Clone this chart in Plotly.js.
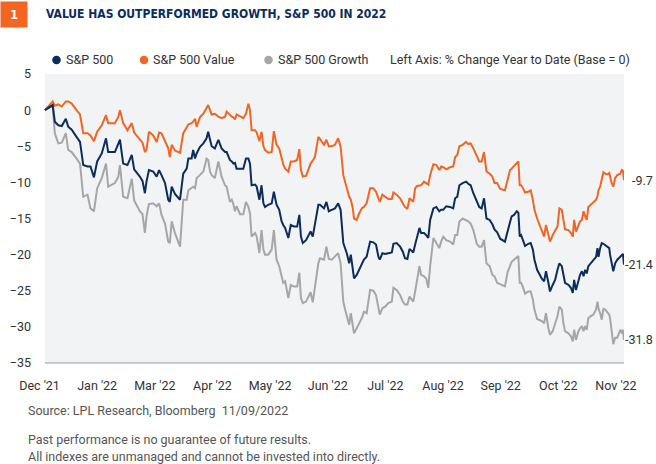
<!DOCTYPE html>
<html>
<head>
<meta charset="utf-8">
<script src="https://cdn.plot.ly/plotly-3.0.1.min.js"></script>
<style>
html,body{margin:0;padding:0;background:#fff;}
#chart{width:656px;height:464px;}
</style>
</head>
<body>
<div id="chart"></div>
<script>
// Trading-day position (0 = Dec 31 2021) and % change year to date
const days = [0.0,2.9,3.7,5.0,6.3,7.8,8.7,10.0,11.8,13.1,14.3,15.9,17.0,18.3,19.5,21.2,22.8,23.6,26.1,27.4,28.0,29.2,30.8,32.4,33.3,35.4,
36.4,37.3,37.9,38.8,40.4,41.7,42.6,43.5,44.8,46.0,46.6,47.3,48.5,50.4,51.6,52.9,53.5,54.7,55.3,56.0,56.6,57.8,59.1,60.3,60.9,61.6,62.2,63.4,64.7,65.9,67.2,67.8,69.0,
69.7,70.3,70.9,71.5,72.8,74.0,75.0,75.9,76.5,77.1,78.4,79.0,80.0,80.8,81.5,82.1,83.3,84.6,85.4,86.4,87.4,88.3,88.9,89.6,90.2,90.8,91.7,92.9,94.1,94.9,95.5,96.2,97.4,98.3,99.1,99.9,100.7,102.0,102.6,
104.1,105.0,105.9,107.0,108.2,109.4,110.3,111.3,111.9,112.6,113.5,114.1,114.8,115.3,116.3,117.2,118.2,119.0,120.0,121.3,122.5,123.5,124.4,124.9,125.9,126.9,128.1,129.4,130.0,131.2,132.5,133.5,134.3,135.2,136.0,
137.4,138.1,138.8,139.7,140.3,141.4,142.2,143.0,143.7,144.9,146.0,147.1,147.8,148.6,149.7,151.1,152.3,153.0,153.8,154.6,155.8,157.1,157.9,158.8,159.8,161.1,162.0,162.9,163.8,164.7,165.9,166.9,167.7,168.7,169.8,
171.6,172.6,173.5,174.1,175.0,176.0,176.6,177.1,177.6,178.2,179.1,180.3,181.2,182.0,182.6,183.6,185.3,186.2,186.9,187.8,188.4,189.4,190.3,191.2,191.9,192.8,193.4,194.0,195.3,196.2,196.9,197.4,198.1,199.0,199.6,200.3,200.9,201.5,202.1,202.7,203.6,204.6,205.6,206.1,206.5,207.1,207.7,208.3,209.0,209.8,210.5,210.8,211.4,212.0,212.7,213.5,214.6,215.2,215.6,216.0];

const spxValue = [0,1.2,0.6,0.8,0.5,1.2,1.2,0.9,0.0,-0.6,-3.2,-3.2,-3.5,-4.3,-3.0,-2.1,-0.7,-1.8,-1.8,-0.9,0.0,-1.8,-2.8,-1.8,-3.1,-4.0,
-4.5,-5.8,-5.5,-3.0,-3.5,-4.4,-3.1,-3.2,-4.4,-5.3,-6.5,-4.8,-5.6,-5.9,-3.2,-2.3,-2.0,-1.8,-1.6,-1.2,-2.3,-1.0,-0.5,0.3,0.7,0.0,-0.6,-0.5,-0.9,-1.1,-0.9,-0.2,-0.7,
-0.9,-1.0,-1.3,-0.6,-0.9,-1.1,-0.5,0.9,0.0,-2.8,-2.8,-3.1,-4.3,-3.0,-5.0,-5.5,-5.9,-5.8,-2.9,-4.8,-5.3,-6.9,-7.5,-8.1,-8.3,-8.5,-7.1,-7.1,-6.9,-5.4,-8.3,-9.2,-9.1,-8.3,-7.4,-7.0,-6.5,-3.7,-4.0,
-4.8,-4.1,-5.0,-5.0,-4.8,-3.9,-5.1,-9.0,-9.8,-10.6,-12.0,-12.4,-13.5,-15.0,-15.2,-14.3,-13.6,-13.4,-12.9,-10.8,-10.8,-11.3,-12.4,-12.7,-11.7,-12.0,-12.3,-12.3,-11.4,-11.7,-12.2,-12.9,-13.4,-13.7,-12.2,
-12.7,-10.8,-10.5,-10.4,-10.4,-9.9,-10.1,-10.3,-9.0,-7.5,-7.6,-8.3,-7.8,-7.9,-8.2,-7.9,-7.8,-6.5,-6.2,-5.0,-4.8,-4.4,-4.7,-4.6,-5.3,-6.5,-7.1,-7.1,-5.8,-8.5,-8.8,-9.2,-10.1,-10.1,-10.9,
-11.1,-9.6,-8.3,-8.1,-7.7,-7.3,-7.1,-10.4,-10.4,-10.7,-11.4,-11.3,-11.1,-12.4,-13.8,-15.0,-16.6,-17.5,-15.9,-17.3,-18.2,-17.3,-16.6,-16.1,-13.6,-13.8,-15.2,-16.5,-16.6,-17.0,-17.5,-15.2,-16.8,-16.1,-15.4,-15.2,-14.0,-14.7,-15.2,-13.4,-13.1,-12.7,-12.4,-11.9,-11.1,-10.6,-9.5,-8.6,-8.8,-8.9,-8.7,-9.3,-10.1,-10.6,-9.4,-9.0,-8.8,-8.3,-8.4,-9.7];

const spx = [0,0.7,-1.6,-2.1,-2.2,-1.2,-2.3,-2.7,-3.7,-4.4,-7.6,-7.8,-7.8,-9.3,-7.1,-6.0,-3.9,-5.8,-5.8,-4.6,-4.1,-7.4,-7.6,-6.2,-8.2,-9.2,
-9.8,-11.5,-9.9,-8.3,-8.5,-9.2,-8.3,-9.0,-10.1,-12.4,-12.7,-10.6,-11.6,-12.4,-8.8,-8.1,-6.7,-6.7,-5.5,-6.7,-6.0,-5.1,-4.6,-3.9,-3.0,-4.1,-5.0,-5.3,-4.1,-5.3,-5.8,-5.8,-6.9,
-7.1,-7.4,-7.3,-8.1,-8.1,-8.1,-6.7,-6.7,-7.4,-10.4,-10.3,-10.6,-12.4,-10.4,-12.9,-13.4,-13.1,-12.9,-11.3,-13.1,-13.8,-15.4,-15.9,-16.3,-17.0,-17.7,-15.9,-16.1,-16.1,-14.5,-17.5,-18.4,-18.0,-17.3,-16.8,-17.5,-15.9,-13.1,-13.1,
-13.6,-12.7,-14.0,-13.8,-13.6,-12.9,-13.8,-18.4,-19.1,-19.8,-21.2,-20.0,-21.9,-23.3,-22.8,-22.1,-21.4,-20.7,-20.3,-18.2,-18.3,-18.6,-20.3,-20.7,-19.8,-19.9,-19.8,-19.7,-18.5,-18.4,-18.9,-19.6,-20.5,-20.6,-19.2,
-19.7,-18.6,-17.5,-16.3,-17.0,-17.0,-17.3,-17.7,-15.2,-13.6,-13.4,-14.0,-13.8,-13.8,-13.3,-13.4,-13.6,-12.2,-12.0,-10.4,-10.1,-9.9,-10.2,-10.4,-11.5,-12.7,-13.4,-13.6,-12.2,-15.0,-15.2,-15.8,-16.5,-16.9,-17.8,
-18.2,-16.6,-15.5,-14.7,-14.5,-14.0,-14.2,-17.5,-17.3,-17.9,-18.8,-18.5,-18.4,-19.3,-20.7,-22.1,-23.3,-23.7,-22.3,-23.9,-25.1,-24.2,-23.5,-22.1,-21.2,-21.6,-23.0,-23.9,-24.2,-24.6,-25.3,-23.5,-24.9,-23.5,-22.8,-22.3,-23.0,-22.1,-22.6,-21.6,-21.2,-20.7,-20.3,-19.1,-20.3,-19.1,-18.4,-18.5,-18.7,-18.9,-19.1,-20.0,-21.5,-22.3,-21.2,-20.7,-20.3,-20.0,-19.9,-21.4];

const spxGrowth = [0,0.6,-3.2,-4.6,-4.5,-3.2,-5.5,-5.8,-6.7,-7.4,-12.0,-11.7,-13.6,-14.0,-10.8,-9.4,-7.4,-10.6,-10.1,-9.2,-7.6,-12.0,-12.2,-9.5,-12.5,-14.0,
-14.4,-17.0,-14.7,-13.0,-12.9,-13.3,-12.9,-14.5,-15.7,-18.2,-18.4,-15.4,-17.0,-18.9,-12.4,-12.4,-11.1,-10.8,-10.6,-10.8,-9.4,-9.0,-8.5,-6.7,-6.9,-8.5,-9.0,-9.4,-7.1,-9.2,-10.4,-10.6,-12.7,
-12.4,-13.0,-14.0,-13.3,-14.4,-14.4,-12.7,-13.4,-14.3,-17.5,-17.0,-17.5,-19.8,-16.6,-19.3,-20.0,-20.0,-19.3,-16.6,-20.7,-21.6,-22.8,-23.9,-23.7,-24.8,-26.0,-24.2,-24.4,-24.4,-22.5,-26.0,-26.7,-26.5,-25.8,-25.2,-26.6,-24.4,-21.2,-20.5,
-20.7,-18.9,-20.6,-20.7,-20.3,-19.8,-21.2,-26.5,-27.5,-28.5,-29.7,-28.1,-29.9,-30.9,-30.2,-29.5,-28.8,-27.9,-28.1,-24.9,-25.0,-25.6,-27.6,-28.3,-27.4,-27.2,-26.7,-26.5,-24.6,-24.9,-25.6,-26.5,-26.9,-26.9,-25.8,
-26.5,-25.1,-23.5,-21.6,-22.8,-23.0,-23.3,-24.6,-21.6,-17.7,-18.4,-19.1,-18.2,-17.5,-18.0,-18.2,-18.6,-17.3,-17.3,-15.4,-15.0,-15.2,-15.4,-15.7,-16.6,-18.5,-18.9,-18.9,-18.0,-21.2,-21.6,-22.8,-23.0,-23.9,-24.1,
-24.4,-22.4,-21.5,-21.0,-20.7,-20.3,-20.2,-23.9,-23.9,-24.4,-25.4,-25.1,-25.1,-26.2,-27.6,-28.9,-29.2,-29.5,-28.1,-30.2,-31.1,-30.6,-29.5,-28.5,-27.2,-27.6,-29.5,-30.6,-30.9,-31.3,-32.0,-30.4,-31.8,-30.6,-30.2,-29.9,-30.6,-29.9,-30.4,-28.8,-28.5,-28.3,-27.6,-26.5,-27.5,-28.1,-29.0,-27.5,-27.6,-27.9,-28.3,-28.8,-30.6,-32.4,-31.5,-31.5,-30.4,-30.9,-30.4,-31.8];

const tickPos = [-2, 19.5, 41, 62.5, 84, 105.5, 127, 148.5, 170, 191.5, 213];
const tickLabels = ["Dec '21", "Jan '22", "Mar '22", "Apr '22", "May '22", "Jun '22", "Jul '22", "Aug '22", "Sep '22", "Oct '22", "Nov '22"];
const seriesNames = ["S&P 500", "S&P 500 Value", "S&P 500 Growth"];

const NAVY = '#0c2c5c', ORANGE = '#f26522', GRAY = '#a6a6a6';
const FONT = 'Roboto, "Liberation Sans", sans-serif';
const TFONT = '"DejaVu Sans Condensed", "DejaVu Sans", sans-serif';
const TXT = '#333333';

const L = 39, R = 32, T = 74, B = 101, W = 656 - L - R, H = 464 - T - B;
const px = v => (v - L) / W;          // pixel x -> paper x
const py = v => (464 - B - v) / H;    // pixel y -> paper y

const traces = [
  {x: days, y: spxGrowth, name: seriesNames[2], type: 'scatter', mode: 'lines', line: {color: GRAY, width: 2}, hoverinfo: 'skip'},
  {x: days, y: spxValue, name: seriesNames[1], type: 'scatter', mode: 'lines', line: {color: ORANGE, width: 2}, hoverinfo: 'skip'},
  {x: days, y: spx, name: seriesNames[0], type: 'scatter', mode: 'lines', line: {color: NAVY, width: 2}, hoverinfo: 'skip'}
];

const last = a => a[a.length - 1];
const x0 = days[0], x1 = last(days);

const legendItems = [
  {dot: 56.5, text: 63.5, name: seriesNames[0], color: NAVY},
  {dot: 144, text: 151, name: seriesNames[1], color: ORANGE},
  {dot: 268.5, text: 275.5, name: seriesNames[2], color: GRAY}
];

const shapes = [
  {type: 'rect', xref: 'x', yref: 'paper', x0: x0, x1: x1, y0: 0, y1: 1, fillcolor: '#f2f3f5', line: {width: 0}, layer: 'below'},
  {type: 'line', xref: 'x', yref: 'paper', x0: x0, x1: x1, y0: 0, y1: 0, line: {color: '#9a9a9a', width: 1}, layer: 'below'}
];
legendItems.forEach(it => shapes.push({
  type: 'circle', xref: 'paper', yref: 'paper', xsizemode: 'pixel', ysizemode: 'pixel',
  xanchor: px(it.dot), yanchor: py(60), x0: -4.3, x1: 4.3, y0: -4.3, y1: 4.3,
  fillcolor: it.color, line: {width: 0}
}));

const annotations = [
  {xref: 'paper', yref: 'paper', x: px(0), y: py(14.5), xanchor: 'left', yanchor: 'middle', showarrow: false,
   text: '<b>1</b>', bgcolor: ORANGE, width: 26, height: 25, borderpad: 0, align: 'center',
   font: {family: TFONT, size: 13, color: '#ffffff'}},
  {xref: 'paper', yref: 'paper', x: px(43.5), y: py(14), xanchor: 'left', yanchor: 'middle', showarrow: false,
   text: '<b>VALUE HAS OUTPERFORMED GROWTH, S&amp;P 500 IN 2022</b>',
   font: {family: TFONT, size: 12, color: '#0b2d5e'}},
  {xref: 'paper', yref: 'paper', x: px(388), y: py(60), xanchor: 'left', yanchor: 'middle', showarrow: false,
   text: 'Left Axis: % Change Year to Date (Base = 0)', font: {family: FONT, size: 12.5, color: TXT}},
  {xref: 'paper', yref: 'paper', x: px(26), y: py(411), xanchor: 'left', yanchor: 'middle', showarrow: false,
   text: 'Source: LPL Research, Bloomberg  11/09/2022', font: {family: FONT, size: 12.5, color: '#555555'}},
  {xref: 'paper', yref: 'paper', x: px(26), y: py(440), xanchor: 'left', yanchor: 'middle', showarrow: false,
   text: 'Past performance is no guarantee of future results.', font: {family: FONT, size: 12.5, color: '#555555'}},
  {xref: 'paper', yref: 'paper', x: px(26), y: py(456), xanchor: 'left', yanchor: 'middle', showarrow: false,
   text: 'All indexes are unmanaged and cannot be invested into directly.', font: {family: FONT, size: 12.5, color: '#555555'}}
];
legendItems.forEach(it => annotations.push({
  xref: 'paper', yref: 'paper', x: px(it.text), y: py(60), xanchor: 'left', yanchor: 'middle', showarrow: false,
  text: it.name.replace('&', '&amp;'), font: {family: FONT, size: 12.5, color: TXT}
}));
[spxValue, spx, spxGrowth].forEach(s => annotations.push({
  xref: 'paper', yref: 'y', x: px(655), y: last(s), xanchor: 'right', yanchor: 'middle', showarrow: false,
  text: last(s).toFixed(1), font: {family: FONT, size: 12.5, color: TXT}
}));

const layout = {
  width: 656, height: 464,
  margin: {l: L, r: R, t: T, b: B, pad: 0},
  paper_bgcolor: '#ffffff', plot_bgcolor: 'rgba(0,0,0,0)',
  showlegend: false,
  font: {family: FONT, size: 12.5, color: TXT},
  xaxis: {range: [-2.2, 216], tickmode: 'array', tickvals: tickPos, ticktext: tickLabels,
          showgrid: false, zeroline: false, showline: false, ticks: '', ticklabelstandoff: 13,
          tickfont: {family: FONT, size: 12.5, color: TXT}, fixedrange: true},
  yaxis: {range: [-35, 5], tick0: 0, dtick: 5, showgrid: false, zeroline: false, showline: false, ticks: '',
          ticklabelstandoff: 7, tickfont: {family: FONT, size: 12.5, color: TXT}, fixedrange: true},
  shapes: shapes,
  annotations: annotations
};

Plotly.newPlot('chart', traces, layout, {displayModeBar: false, staticPlot: true});
</script>
</body>
</html>
